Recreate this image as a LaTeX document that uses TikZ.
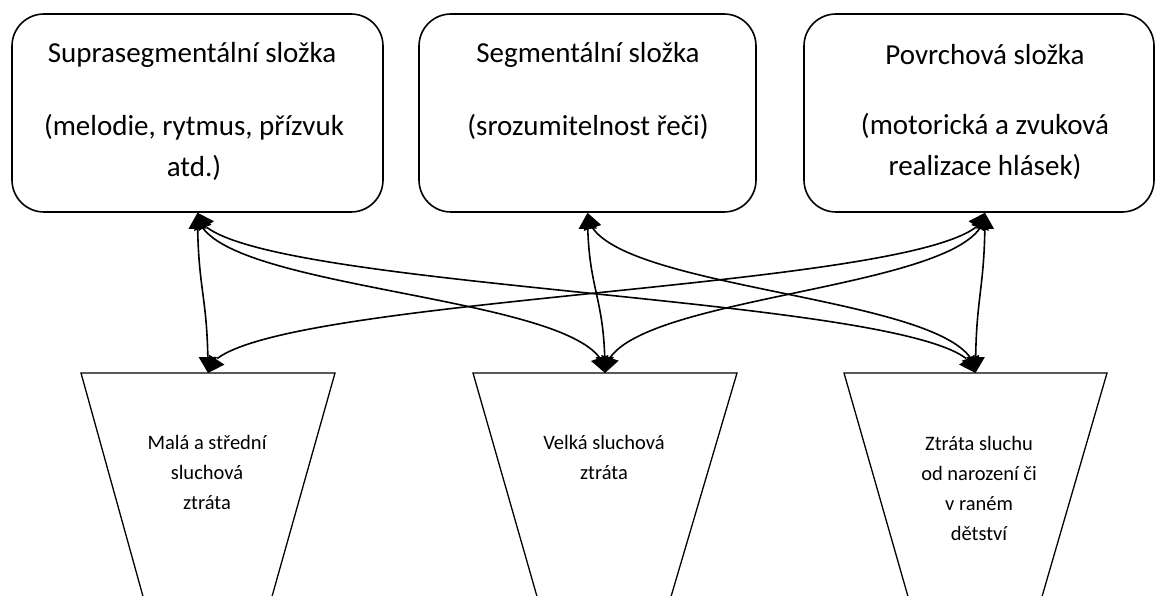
\documentclass[tikz,border=0pt]{standalone}
\usepackage{fontspec}
\setmainfont{Carlito}
\usetikzlibrary{arrows.meta,bending}
\begin{document}
\begin{tikzpicture}[x=1pt,y=-1pt,
  box/.style={draw, line width=1.6pt, rounded corners=32pt, inner sep=0pt},
  conn/.style={line width=1.6pt, {Triangle[width=18pt,length=16pt]}-{Triangle[width=18pt,length=16pt]}},
  trap/.style={line width=1.3pt, line join=miter},
  btxt/.style={font=\fontsize{29}{41}\selectfont, align=center, inner sep=0pt},
  ttxt/.style={font=\fontsize{20.5}{30}\selectfont, align=center, inner sep=0pt}]
\useasboundingbox (0,0) rectangle (1157,596);
\clip (0,0) rectangle (1157,596);
% top boxes
\node[box, minimum width=371pt, minimum height=198pt] (b1) at (197.5,113) {};
\node[box, minimum width=337pt, minimum height=198pt] (b2) at (587.5,113) {};
\node[box, minimum width=350pt, minimum height=198pt] (b3) at (979,113) {};
\node[btxt] (b1a) at (192,55) {Suprasegmentální složka};
\node[btxt] (b1b) at (194,147) {(melodie, rytmus, přízvuk\\atd.)};
\node[btxt] (b2a) at (588,55) {Segmentální složka};
\node[btxt] (b2b) at (588,127) {(srozumitelnost řeči)};
\node[btxt] (b3a) at (985,55) {Povrchová složka};
\node[btxt] (b3b) at (985,146) {(motorická a zvuková\\realizace hlásek)};
% trapezoids
\draw[trap] (144,600) -- (81,373) -- (335,373) -- (271,600);
\draw[trap] (538,600) -- (473,373) -- (737,373) -- (670,600);
\draw[trap] (909,600) -- (844,373) -- (1107,373) -- (1041,600);
\coordinate (t1) at (208,373);
\coordinate (t2) at (605,373);
\coordinate (t3) at (975.5,373);
\node[ttxt] (t1x) at (207,472) {Malá a střední\\sluchová\\ztráta};
\node[ttxt] (t2x) at (604,457) {Velká sluchová\\ztráta};
\node[ttxt] (t3x) at (979,488) {Ztráta sluchu\\od narození či\\v raném\\dětství};
% connectors
\draw[conn] (b1.south) .. controls +(0,80) and +(0,-80) .. (t1);
\draw[conn] (b1.south) .. controls +(0,80) and +(0,-80) .. (t2);
\draw[conn] (b1.south) .. controls +(0,80) and +(0,-80) .. (t3);
\draw[conn] (b2.south) .. controls +(0,80) and +(0,-80) .. (t2);
\draw[conn] (b2.south) .. controls +(0,80) and +(0,-80) .. (t3);
\draw[conn] ([xshift=6pt]b3.south) .. controls +(0,80) and +(0,-80) .. (t1);
\draw[conn] ([xshift=6pt]b3.south) .. controls +(0,80) and +(0,-80) .. (t2);
\draw[conn] ([xshift=6pt]b3.south) .. controls +(0,80) and +(0,-80) .. (t3);
\end{tikzpicture}
\end{document}
